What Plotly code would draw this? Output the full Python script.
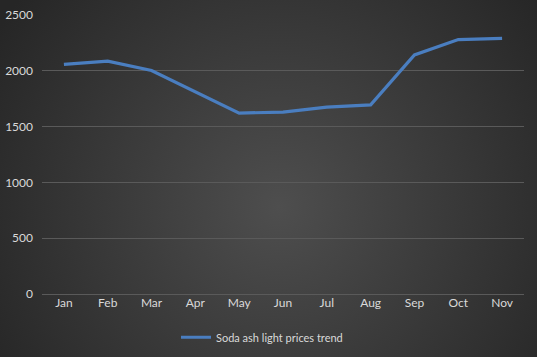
import base64
import plotly.graph_objects as go

months = ["Jan", "Feb", "Mar", "Apr", "May", "Jun", "Jul", "Aug", "Sep", "Oct", "Nov"]
prices = [2057, 2087, 2003, 1812, 1621, 1630, 1674, 1695, 2142, 2280, 2290]
series_name = "Soda ash light prices trend"
y_ticks = [0, 500, 1000, 1500, 2000, 2500]

W, H = 537, 357
ml, mr, mt, mb = 42, 13, 15, 63
pw, ph = W - ml - mr, H - mt - mb

svg = f'''<svg xmlns="http://www.w3.org/2000/svg" width="{W}" height="{H}" viewBox="0 0 {W} {H}" preserveAspectRatio="none">
<defs><radialGradient id="g" gradientUnits="userSpaceOnUse" cx="{W*0.52}" cy="{H*0.58}" r="{W*0.62}">
<stop offset="0%" stop-color="#4e4e4e"/><stop offset="100%" stop-color="#262626"/>
</radialGradient></defs>
<rect width="{W}" height="{H}" fill="url(#g)"/></svg>'''
bg = "data:image/svg+xml;base64," + base64.b64encode(svg.encode()).decode()

fig = go.Figure()
fig.add_trace(go.Scatter(
    x=months, y=prices, mode="lines", name=series_name,
    line=dict(color="#4a7ec0", width=3.2),
))

fig.update_layout(
    width=W, height=H,
    margin=dict(l=ml, r=mr, t=mt, b=mb, autoexpand=False),
    paper_bgcolor="#333333", plot_bgcolor="rgba(0,0,0,0)",
    font=dict(family="Lato, Open Sans, sans-serif", size=12, color="#d9d9d9"),
    images=[dict(source=bg, xref="paper", yref="paper",
                 x=-ml / pw, y=1 + mt / ph, sizex=W / pw, sizey=H / ph,
                 xanchor="left", yanchor="top", sizing="stretch", layer="below")],
    showlegend=True,
    legend=dict(orientation="h", x=(176 - ml) / pw, xanchor="left", y=-0.155, yanchor="middle",
                bgcolor="rgba(0,0,0,0)", font=dict(size=11, color="#d9d9d9")),
    xaxis=dict(type="category", range=[-0.5, 10.5], showgrid=False, zeroline=False,
               showline=False, ticks="", automargin=False,
               tickfont=dict(size=12, color="#d9d9d9"), fixedrange=True),
    yaxis=dict(range=[0, 2500], tickvals=y_ticks, showgrid=True, gridcolor="#5a5a5a",
               gridwidth=1, zeroline=True, zerolinecolor="#5a5a5a", zerolinewidth=1,
               showline=False, ticks="", ticklabelstandoff=8, automargin=False,
               tickfont=dict(size=12, color="#d9d9d9"), fixedrange=True),
)

css_js = (
    "var s=document.createElement('style');"
    "s.textContent='html,body{margin:0;padding:0;overflow:hidden;background:#262626;}';"
    "document.head.appendChild(s);"
)
fig.write_html("out.html", config={"displayModeBar": False, "staticPlot": True},
               post_script=css_js)
